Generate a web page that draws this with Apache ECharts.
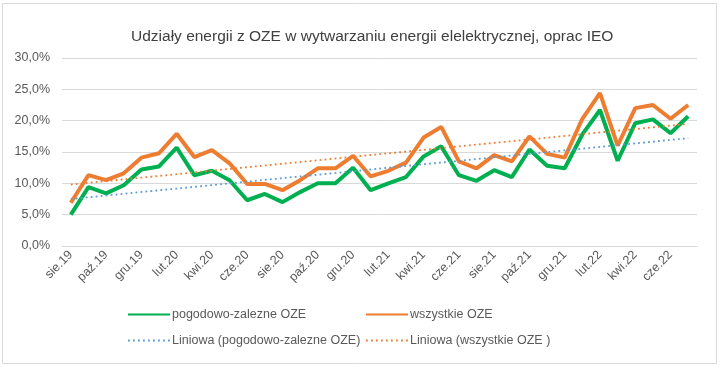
<!DOCTYPE html>
<html><head><meta charset="utf-8">
<script src="https://cdn.jsdelivr.net/npm/echarts@6/dist/echarts.min.js"></script>
<style>html,body{margin:0;padding:0;background:#fff}#c{width:720px;height:367px}</style>
</head><body><div id="c"></div>
<script>
const categories = ["sie.19","wrz.19","paź.19","lis.19","gru.19","sty.20","lut.20","mar.20","kwi.20","maj.20","cze.20","lip.20","sie.20","wrz.20","paź.20","lis.20","gru.20","sty.21","lut.21","mar.21","kwi.21","maj.21","cze.21","lip.21","sie.21","wrz.21","paź.21","lis.21","gru.21","sty.22","lut.22","mar.22","kwi.22","maj.22","cze.22","lip.22"];
const pogodowo = [5.0,9.4,8.4,9.7,12.2,12.7,15.7,11.3,12.0,10.5,7.3,8.3,7.0,8.6,10.0,10.0,12.5,8.9,10.0,11.0,14.3,15.9,11.3,10.4,12.1,11.0,15.4,12.8,12.4,17.8,21.7,13.6,19.6,20.2,18.0,20.7];
const wszystkie = [6.9,11.3,10.5,11.6,14.1,14.8,17.9,14.2,15.3,13.2,9.9,9.9,8.9,10.5,12.4,12.4,14.4,11.1,12.0,13.3,17.3,19.0,13.5,12.4,14.5,13.5,17.5,14.7,14.1,20.3,24.4,16.0,22.0,22.5,20.3,22.5];
const trendPogodowo = [7.5, 17.2];   // start / end of linear trend
const trendWszystkie = [9.8, 19.5];
const yTicks = [0,5,10,15,20,25,30];

function trendData(t){ const a = categories.map(()=>null); a[0]=t[0]; a[a.length-1]=t[1]; return a; }

const F = "'Liberation Sans', Arial, sans-serif";
const chart = echarts.init(document.getElementById('c'), null, {renderer:'canvas'});
function lg(name, left, top){
  return {data:[name], left:left, top:top, padding:0, itemWidth:42, itemHeight:14, itemGap:4,
    itemStyle:{opacity:0},
    textStyle:{fontFamily:F, fontSize:12.5, color:'#595959', padding:[0,0,0,-3]}};
}
chart.setOption({
  animation:false,
  graphic:[{type:'rect', shape:{x:2.5,y:3.5,width:714,height:360}, style:{fill:'none', stroke:'#d9d9d9', lineWidth:1}, silent:true}],
  title:{text:'Udziały energii z OZE w wytwarzaniu energii elelektrycznej, oprac IEO', left:126, top:24, textStyle:{fontFamily:F, fontSize:15.5, fontWeight:'normal', color:'#404040'}},
  grid:{left:62, right:23, top:58, bottom:121, containLabel:false},
  legend:[
    lg('pogodowo-zalezne OZE',127,308),
    lg('wszystkie OZE',365,308),
    lg('Liniowa (pogodowo-zalezne OZE)',127,334),
    lg('Liniowa (wszystkie OZE )',365,334)
  ],
  xAxis:{type:'category', data:categories, boundaryGap:true,
    axisLine:{lineStyle:{color:'#d9d9d9'}},
    axisTick:{interval:1, length:5, lineStyle:{color:'#d9d9d9'}},
    axisLabel:{interval:1, rotate:45, fontFamily:F, fontSize:12.5, color:'#595959', margin:7}},
  yAxis:{type:'value', min:0, max:30, interval:5,
    axisLine:{show:false}, axisTick:{show:false},
    splitLine:{lineStyle:{color:'#d9d9d9'}},
    axisLabel:{fontFamily:F, fontSize:12.5, color:'#595959', margin:12, formatter:v=>v.toFixed(1).replace('.',',')+'%'}},
  series:[
    {name:'pogodowo-zalezne OZE', type:'line', data:pogodowo, symbol:'none', lineStyle:{width:4, color:'#00B050'}, itemStyle:{color:'#00B050'}, z:4},
    {name:'wszystkie OZE', type:'line', data:wszystkie, symbol:'none', lineStyle:{width:4, color:'#ED7D31'}, itemStyle:{color:'#ED7D31'}, z:3},
    {name:'Liniowa (pogodowo-zalezne OZE)', type:'line', data:trendData(trendPogodowo), connectNulls:true, symbol:'none', lineStyle:{width:1.8, type:[1.8,3.2], color:'#5B9BD5'}, itemStyle:{color:'#5B9BD5'}, z:5},
    {name:'Liniowa (wszystkie OZE )', type:'line', data:trendData(trendWszystkie), connectNulls:true, symbol:'none', lineStyle:{width:1.8, type:[1.8,3.2], color:'#ED7D31'}, itemStyle:{color:'#ED7D31'}, z:5}
  ]
});
</script></body></html>
